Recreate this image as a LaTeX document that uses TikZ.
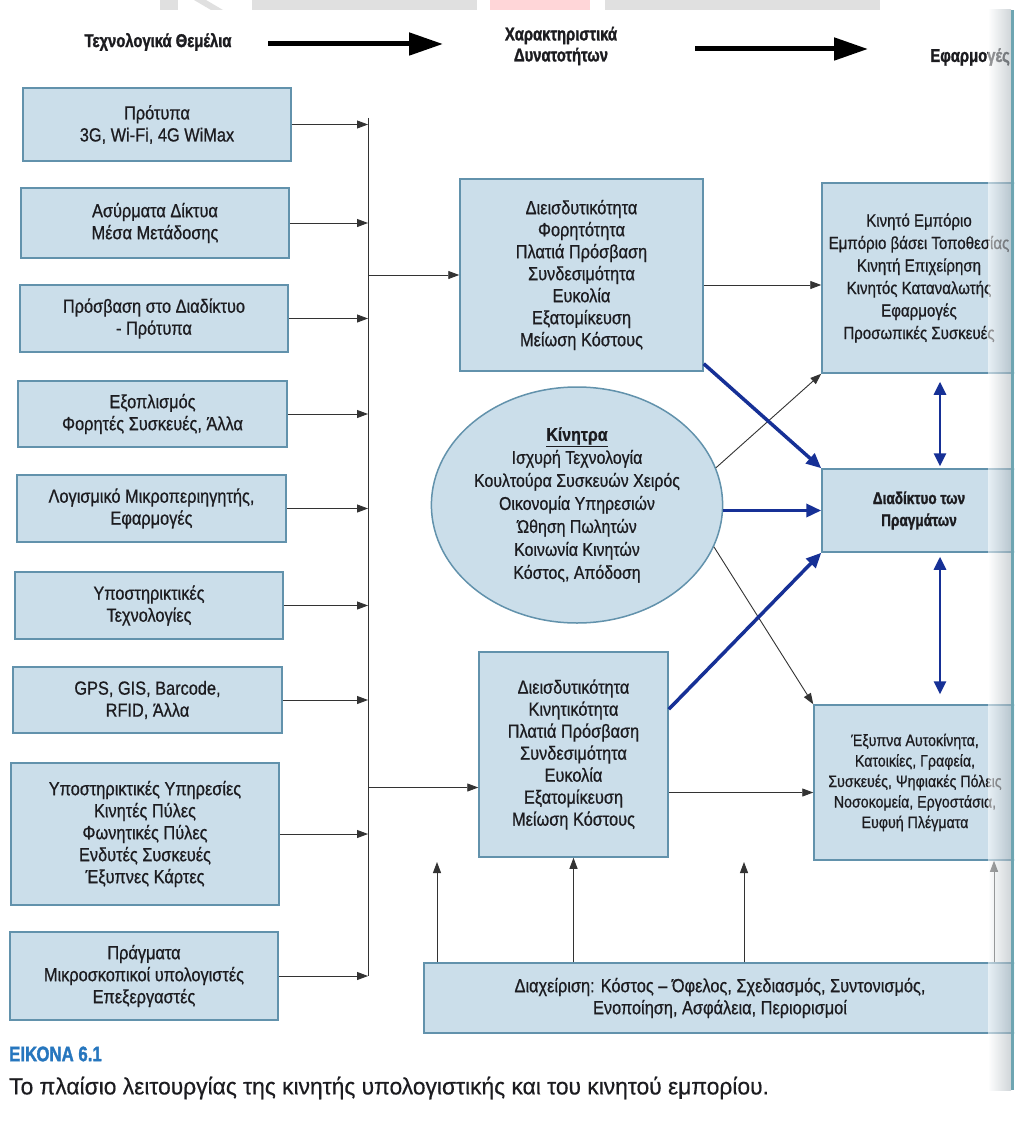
\documentclass[tikz,border=0pt]{standalone}
\usepackage{fontspec}
\setmainfont{Liberation Sans}[FakeStretch=0.86]
\newfontfamily\boxfam{Liberation Sans}[FakeStretch=0.86, FakeBold=0.7]
\newfontfamily\hdfam{Liberation Sans}[FakeStretch=0.80, FakeBold=1.4]
\newfontfamily\capfam{Liberation Sans}[FakeStretch=0.97, FakeBold=0.4]
\usetikzlibrary{arrows.meta,shapes.geometric,calc}
\definecolor{boxfill}{RGB}{203,222,234}
\definecolor{boxline}{RGB}{98,146,172}
\definecolor{navy}{RGB}{22,48,150}
\definecolor{capblue}{RGB}{38,118,190}
\definecolor{txt}{RGB}{28,28,32}
\definecolor{bandgray}{RGB}{224,224,224}
\definecolor{bandpink}{RGB}{255,214,216}
\definecolor{edgegray}{RGB}{170,180,186}
\definecolor{edgeteal}{RGB}{110,165,178}
\newcommand{\bxfont}{\boxfam\fontsize{19}{22}\selectfont}
\newcommand{\rtfont}{\boxfam\fontsize{17.5}{22.5}\selectfont}
\newcommand{\hdfont}{\hdfam\bfseries\fontsize{18.5}{21}\selectfont}
\begin{document}
\begin{tikzpicture}[x=1pt,y=-1pt,
  box/.style={draw=boxline, line width=1.5pt, fill=boxfill, align=center, inner sep=0pt, font=\bxfont, text=txt},
  thinarr/.style={draw=black!80, line width=0.9pt, -{Triangle[length=11pt,width=8pt]}},
  bluearr/.style={draw=navy, line width=3.5pt, -{Triangle[length=15pt,width=13pt]}},
  dblarr/.style={draw=navy, line width=2.8pt, {Triangle[length=13pt,width=12pt]}-{Triangle[length=13pt,width=12pt]}},
  bigarr/.style={draw=black, line width=5pt, -{Triangle[length=34pt,width=22pt]}},
  hdr/.style={font=\hdfont, inner sep=0pt, text=txt, align=center}]
\useasboundingbox (0,0) rectangle (1014,1129);
\clip (0,0) rectangle (1014,1129);
\fill[white] (0,0) rectangle (1014,1129);

% page header band
\fill[bandgray] (160,0) rectangle (178,10);
\fill[bandgray] (194,0) -- (206,0) -- (223,10) -- (211,10) -- cycle;
\fill[bandgray] (252,0) rectangle (477,10);
\fill[bandpink] (490,0) rectangle (590,10);
\fill[bandgray] (605,0) rectangle (880,10);

% header
\node[hdr] (h1) at (158,42) {Τεχνολογικά Θεμέλια};
\node[hdr] (h2) at (561,46) {Χαρακτηριστικά\\Δυνατοτήτων};
\node[hdr, anchor=east] (h3) at (1010,57) {Εφαρμογές};
\coordinate (a1s) at (268,44);
\coordinate (a1e) at (443,44);
\coordinate (a2s) at (695,49);
\coordinate (a2e) at (868,49);
\draw[bigarr] (a1s) -- (a1e);
\draw[bigarr] (a2s) -- (a2e);

% left column
\node[box, minimum width=268, minimum height=73] (b1) at (157,124.5) {Πρότυπα\\3G, Wi-Fi, 4G WiMax};
\node[box, minimum width=268, minimum height=70] (b2) at (155,223) {Ασύρματα Δίκτυα\\Μέσα Μετάδοσης};
\node[box, minimum width=268, minimum height=67] (b3) at (154,318.5) {Πρόσβαση στο Διαδίκτυο\\- Πρότυπα};
\node[box, minimum width=269, minimum height=66] (b4) at (152.5,414) {Εξοπλισμός\\Φορητές Συσκευές, Άλλα};
\node[box, minimum width=269, minimum height=67] (b5) at (151.5,508.5) {Λογισμικό Μικροπεριηγητής,\\Εφαρμογές};
\node[box, minimum width=268, minimum height=67] (b6) at (149,605.5) {Υποστηρικτικές\\Τεχνολογίες};
\node[box, minimum width=269, minimum height=66] (b7) at (147.5,700) {GPS, GIS, Barcode,\\RFID, Άλλα};
\node[box, minimum width=268, minimum height=142] (b8) at (145,834) {Υποστηρικτικές Υπηρεσίες\\Κινητές Πύλες\\Φωνητικές Πύλες\\Ενδυτές Συσκευές\\Έξυπνες Κάρτες};
\node[box, minimum width=268, minimum height=88] (b9) at (144,976) {Πράγματα\\Μικροσκοπικοί υπολογιστές\\Επεξεργαστές};

% bus
\coordinate (busT) at (368,118);
\coordinate (busB) at (368,976);
\draw[black!80, line width=0.9pt] (busT) -- (busB);
\foreach \b in {b1,b2,b3,b4,b5,b6,b7,b8,b9}
  \draw[thinarr] (\b.east) -- (\b.east -| busT);

% middle column
\node[box, minimum width=243, minimum height=192] (m1) at (581.5,275) {Διεισδυτικότητα\\Φορητότητα\\Πλατιά Πρόσβαση\\Συνδεσιμότητα\\Ευκολία\\Εξατομίκευση\\Μείωση Κόστους};
\node[box, minimum width=189, minimum height=205] (m2) at (573.5,754.5) {Διεισδυτικότητα\\Κινητικότητα\\Πλατιά Πρόσβαση\\Συνδεσιμότητα\\Ευκολία\\Εξατομίκευση\\Μείωση Κόστους};
\node[box, ellipse, minimum width=280, minimum height=236, font=\boxfam\fontsize{18.5}{23}\selectfont] (e) at (577,505) {\underline{\textbf{Κίνητρα}}\\Ισχυρή Τεχνολογία\\Κουλτούρα Συσκευών Χειρός\\Οικονομία Υπηρεσιών\\Ώθηση Πωλητών\\Κοινωνία Κινητών\\Κόστος, Απόδοση};

\draw[thinarr] (m1.west -| busT) -- (m1.west);
\draw[thinarr] ([yshift=-33pt]m2.west -| busT) -- ([yshift=-33pt]m2.west);

% right column
\node[box, minimum width=194, minimum height=190, font=\rtfont] (r1) at (919,278) {Κινητό Εμπόριο\\Εμπόριο βάσει Τοποθεσίας\\Κινητή Επιχείρηση\\Κινητός Καταναλωτής\\Εφαρμογές\\Προσωπικές Συσκευές};
\node[box, minimum width=194, minimum height=83, font=\hdfam\bfseries\fontsize{17}{22}\selectfont] (r2) at (919,510.5) {Διαδίκτυο των\\Πραγμάτων};
\node[box, minimum width=202, minimum height=155, font=\boxfam\fontsize{16.5}{20.5}\selectfont] (r3) at (915,782.5) {Έξυπνα Αυτοκίνητα,\\Κατοικίες, Γραφεία,\\Συσκευές, Ψηφιακές Πόλεις\\Νοσοκομεία, Εργοστάσια,\\Ευφυή Πλέγματα};

% management
\node[box, minimum width=592, minimum height=70] (mg) at (720,998) {Διαχείριση: Κόστος – Όφελος, Σχεδιασμός, Συντονισμός,\\Ενοποίηση, Ασφάλεια, Περιορισμοί};

% connectors middle -> right
\draw[thinarr] ([yshift=-10pt]m1.east) -- ([yshift=-10pt]m1.east -| r1.west);
\draw[thinarr] ([yshift=-38pt]m2.east) -- ([yshift=-38pt]m2.east -| r3.west);
\draw[thinarr] (e.15) -- (r1.south west);
\draw[thinarr] (e.-17) -- (r3.north west);
\draw[bluearr] ([yshift=8pt]m1.south east) -- (r2.north west);
\draw[bluearr] (e.east |- r2.west) -- (r2.west);
\draw[bluearr] ([yshift=-58pt]m2.north east) -- (r2.south west);

% double arrows
\coordinate (dx) at (940,0);
\draw[dblarr, shorten <=8pt, shorten >=2pt] (dx |- r1.south) -- (dx |- r2.north);
\draw[dblarr, shorten <=4pt, shorten >=10pt] (dx |- r2.south) -- (dx |- r3.north);

% arrows up from management
\coordinate (u1) at (437,862);
\coordinate (u3) at (744,862);
\coordinate (u4) at (994,0);
\draw[thinarr] (u1 |- mg.north) -- (u1);
\draw[thinarr] (m2.south |- mg.north) -- (m2.south);
\draw[thinarr] (u3 |- mg.north) -- (u3);
\draw[thinarr] (u4 |- mg.north) -- (u4 |- r3.south);

% caption
\node[anchor=west, inner sep=0pt, font=\hdfam\bfseries\fontsize{21}{24}\selectfont, text=capblue] (cap1) at (9,1054) {ΕΙΚΟΝΑ 6.1};
\node[anchor=west, inner sep=0pt, font=\capfam\fontsize{23.5}{26}\selectfont, text=txt] (cap2) at (9,1088) {Το πλαίσιο λειτουργίας της κινητής υπολογιστικής και του κινητού εμπορίου.};

% right page edge (binding shadow)
\shade[left color=white, right color=edgegray, opacity=0.55] (988,10) rectangle (1011,1090);
\fill[edgeteal] (1011,10) rectangle (1014,1090);
\end{tikzpicture}
\end{document}
